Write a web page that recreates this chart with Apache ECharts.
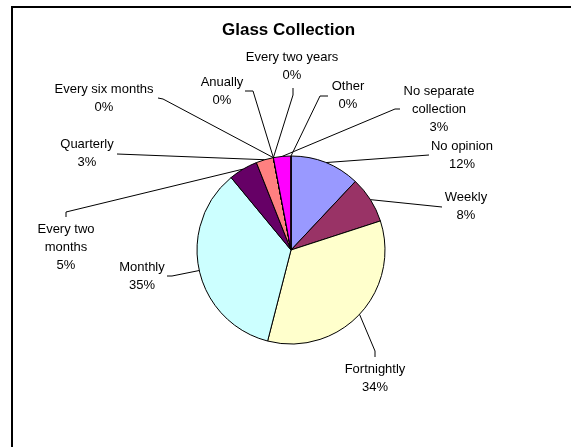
<!DOCTYPE html>
<html>
<head>
    <meta charset="utf-8">
    <title>Glass Collection</title>
    <script src="https://cdn.jsdelivr.net/npm/echarts@6/dist/echarts.min.js"></script>
    <style>
        html, body { margin: 0; padding: 0; background: #fff; }
    </style>
</head>
<body>
    <div id="main" style="width: 571px;height:447px;"></div>
    <script type="text/javascript">
        // data, clockwise from 12 o'clock
        var categories = ['No opinion', 'Weekly', 'Fortnightly', 'Monthly', 'Every two months', 'Quarterly',
            'Every six months', 'Anually', 'Every two years', 'No separate collection', 'Other'];
        var shares = [12, 8, 34, 35, 5, 3, 0, 0, 0, 3, 0];
        var colors = ['#9999FF', '#993366', '#FFFFCC', '#CCFFFF', '#660066', '#FF8080',
            '#0066CC', '#CCCCFF', '#000080', '#FF00FF', '#FFFF00'];

        // where each label sits (centre of text block) and the leader line bends after the pie edge
        var labelSpots = {
            'No opinion':             { x: 462, y: 155, line: [[429, 155]] },
            'Weekly':                 { x: 466, y: 206, line: [[442, 207]] },
            'Fortnightly':            { x: 375, y: 378, line: [[375, 351], [375, 357]] },
            'Monthly':                { x: 142, y: 276, line: [[172, 276], [167, 276]] },
            'Every two months':       { x: 66,  y: 247, line: [[66, 212], [66, 217]] },
            'Quarterly':              { x: 87,  y: 153, line: [[117, 154]] },
            'Every six months':       { x: 104, y: 98,  line: [[163, 99], [158, 98]] },
            'Anually':                { x: 222, y: 91,  line: [[253, 91], [245, 91]] },
            'Every two years':        { x: 292, y: 66,  line: [[293, 95], [293, 88]] },
            'No separate collection': { x: 439, y: 109, line: [[395, 109], [400, 109]] },
            'Other':                  { x: 348, y: 95,  line: [[320, 96], [328, 96]] }
        };
        var wraps = {
            'Every two months': 'Every two\nmonths',
            'No separate collection': 'No separate\ncollection'
        };

        var myChart = echarts.init(document.getElementById('main'));

        var pieData = categories.map(function (name, i) {
            return { name: name, value: shares[i], itemStyle: { color: colors[i] } };
        });

        var option = {
            backgroundColor: '#fff',
            animation: false,
            title: {
                text: 'Glass Collection',
                left: 222,
                top: 22,
                padding: 0,
                textStyle: {
                    fontFamily: 'Arial, "Liberation Sans"',
                    fontSize: 17,
                    fontWeight: 'bold',
                    color: '#000'
                }
            },
            graphic: [{
                type: 'rect',
                shape: { x: 12, y: 7, width: 620, height: 500 },
                style: { fill: 'none', stroke: '#000', lineWidth: 2 },
                silent: true
            }],
            series: [{
                type: 'pie',
                center: [291, 250],
                radius: 94,
                startAngle: 90,
                clockwise: true,
                avoidLabelOverlap: false,
                percentPrecision: 0,
                itemStyle: { borderColor: '#000', borderWidth: 1 },
                label: {
                    show: true,
                    fontFamily: 'Arial, "Liberation Sans"',
                    fontSize: 13,
                    lineHeight: 18,
                    color: '#000',
                    formatter: function (p) {
                        return (wraps[p.name] || p.name) + '\n' + p.percent + '%';
                    }
                },
                labelLine: {
                    show: true,
                    lineStyle: { color: '#000', width: 1 }
                },
                labelLayout: function (params) {
                    var spot = labelSpots[categories[params.dataIndex]];
                    var pts = params.labelLinePoints;
                    var out = {
                        x: spot.x,
                        y: spot.y,
                        align: 'center',
                        verticalAlign: 'middle'
                    };
                    if (pts && pts.length) {
                        out.labelLinePoints = [pts[0]].concat(spot.line);
                    }
                    return out;
                },
                emphasis: { disabled: true },
                data: pieData
            }]
        };

        myChart.setOption(option);
    </script>
</body>
</html>
